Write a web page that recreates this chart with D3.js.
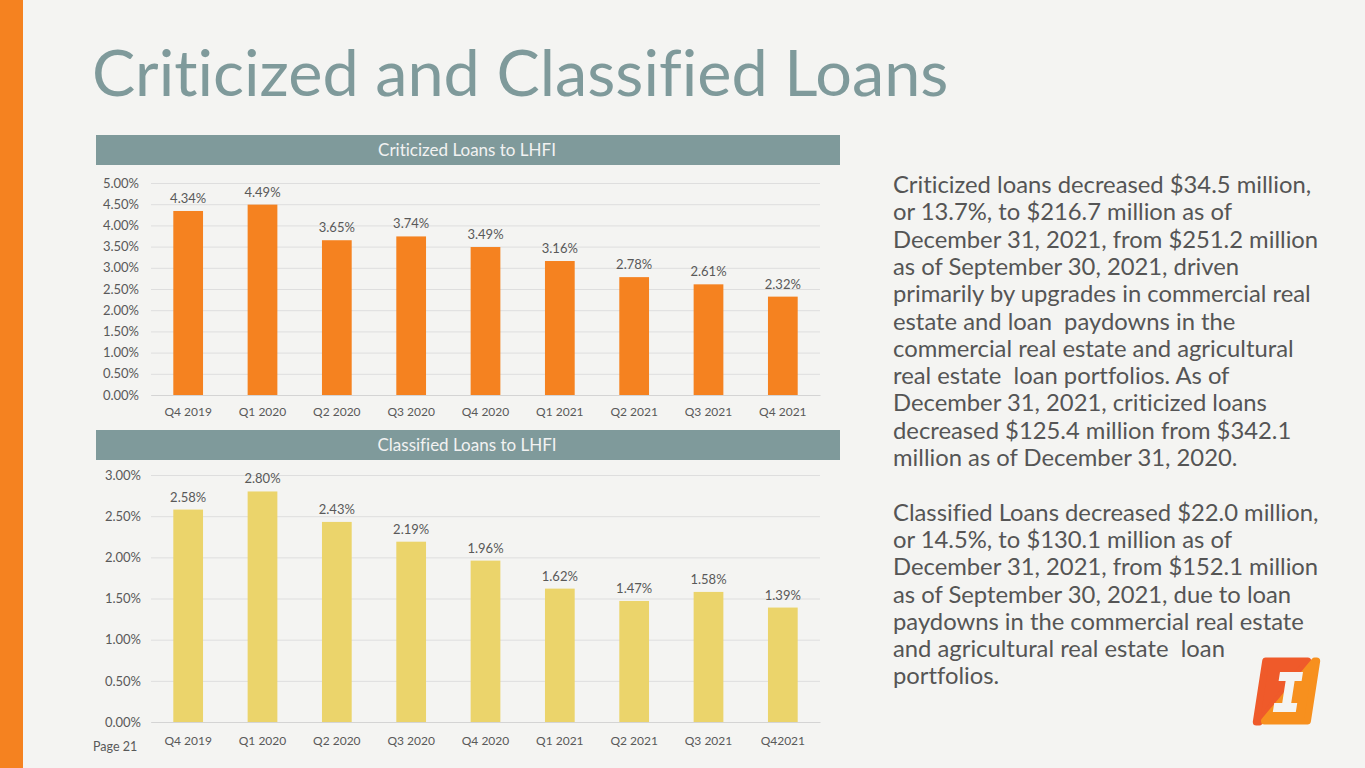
<!DOCTYPE html>
<html>
<head>
<meta charset="utf-8">
<script src="https://cdn.jsdelivr.net/npm/d3@7"></script>
<style>
  html, body { margin: 0; padding: 0; background: #f4f4f2; }
  svg { display: block; }
  text { font-family: Lato, "Open Sans", sans-serif; font-variant-ligatures: none; }
</style>
</head>
<body>
<div id="slide"></div>
<script>
// data
const quarters = ["Q4 2019", "Q1 2020", "Q2 2020", "Q3 2020", "Q4 2020", "Q1 2021", "Q2 2021", "Q3 2021", "Q4 2021"];
const quartersBottom = ["Q4 2019", "Q1 2020", "Q2 2020", "Q3 2020", "Q4 2020", "Q1 2021", "Q2 2021", "Q3 2021", "Q42021"];
const criticized = [4.34, 4.49, 3.65, 3.74, 3.49, 3.16, 2.78, 2.61, 2.32];
const classified = [2.58, 2.80, 2.43, 2.19, 1.96, 1.62, 1.47, 1.58, 1.39];
const criticizedTicks = [0, 0.5, 1, 1.5, 2, 2.5, 3, 3.5, 4, 4.5, 5];
const classifiedTicks = [0, 0.5, 1, 1.5, 2, 2.5, 3];

const para1 = [
  "Criticized loans decreased $34.5 million,",
  "or 13.7%, to $216.7 million as of",
  "December 31, 2021, from $251.2 million",
  "as of September 30, 2021, driven",
  "primarily by upgrades in commercial real",
  "estate and loan  paydowns in the",
  "commercial real estate and agricultural",
  "real estate  loan portfolios. As of",
  "December 31, 2021, criticized loans",
  "decreased $125.4 million from $342.1",
  "million as of December 31, 2020."
];
const para2 = [
  "Classified Loans decreased $22.0 million,",
  "or 14.5%, to $130.1 million as of",
  "December 31, 2021, from $152.1 million",
  "as of September 30, 2021, due to loan",
  "paydowns in the commercial real estate",
  "and agricultural real estate  loan",
  "portfolios."
];

const W = 1365, H = 768;
const svg = d3.select("#slide").append("svg")
    .attr("width", W)
    .attr("height", H);

svg.append("rect").attr("width", W).attr("height", H).attr("fill", "#f4f4f2");

// orange stripe on the left
svg.append("rect").attr("x", 0).attr("y", 0).attr("width", 23).attr("height", H).attr("fill", "#f58220");

// title
svg.append("text")
    .attr("x", 92).attr("y", 96)
    .attr("font-size", 64.8)
    .attr("fill", "#7f9a9b")
    .text("Criticized and Classified Loans");

// one bar panel
function panel(opts) {
  const g = svg.append("g");

  // header band
  g.append("rect")
      .attr("x", 96).attr("y", opts.bandY)
      .attr("width", 744).attr("height", 30)
      .attr("fill", "#7f9a9b");
  g.append("text")
      .attr("x", 467).attr("y", opts.bandY + 21)
      .attr("text-anchor", "middle")
      .attr("font-size", 17)
      .attr("fill", "#f2f2f2")
      .text(opts.title);

  const x = d3.scaleBand()
      .domain(opts.cats)
      .range([151, 820])
      .paddingInner(0.6)
      .paddingOuter(0.3);

  const y = d3.scaleLinear()
      .domain(opts.domain)
      .range([opts.y0, opts.y1]);

  // gridlines + y labels
  const yAxis = g.append("g")
      .attr("transform", "translate(151,0)")
      .call(d3.axisLeft(y).tickValues(opts.ticks).tickSize(-669).tickPadding(opts.yPad)
        .tickFormat(d => d3.format(".2f")(d) + "%"));
  yAxis.select(".domain").remove();
  yAxis.selectAll(".tick line").attr("stroke", "#dedede").attr("stroke-width", 1);
  yAxis.selectAll(".tick text")
      .attr("fill", "#595959")
      .attr("font-size", 13)
      .style("font-family", "Lato, sans-serif");

  // x axis
  const xAxis = g.append("g")
      .attr("transform", `translate(0,${opts.y0})`)
      .call(d3.axisBottom(x).tickSize(0).tickPadding(opts.xPad));
  xAxis.select(".domain").attr("stroke", "#d4d4d4");
  xAxis.selectAll(".tick text")
      .attr("fill", "#595959")
      .attr("font-size", 12)
      .style("font-family", "Lato, sans-serif");

  // bars
  g.selectAll(".bar")
    .data(opts.values)
    .join("rect")
      .attr("class", "bar")
      .attr("x", (d, i) => x(opts.cats[i]))
      .attr("y", d => y(d))
      .attr("width", x.bandwidth())
      .attr("height", d => y(0) - y(d))
      .attr("fill", opts.color);

  // value labels
  g.selectAll(".val")
    .data(opts.values)
    .join("text")
      .attr("class", "val")
      .attr("x", (d, i) => x(opts.cats[i]) + x.bandwidth() / 2)
      .attr("y", d => y(d) - 8)
      .attr("text-anchor", "middle")
      .attr("font-size", 13)
      .attr("fill", "#595959")
      .text(d => d3.format(".2f")(d) + "%");
}

panel({
  title: "Criticized Loans to LHFI",
  bandY: 135,
  cats: quarters,
  values: criticized,
  ticks: criticizedTicks,
  domain: [0, 5],
  y0: 395, y1: 183,
  yPad: 12, xPad: 12,
  color: "#f58220"
});

panel({
  title: "Classified Loans to LHFI",
  bandY: 430,
  cats: quartersBottom,
  values: classified,
  ticks: classifiedTicks,
  domain: [0, 3],
  y0: 722, y1: 475,
  yPad: 10, xPad: 14,
  color: "#ebd46b"
});

// page number
svg.append("text")
    .attr("x", 93).attr("y", 751)
    .attr("font-size", 12.5)
    .attr("fill", "#595959")
    .text("Page 21");

// commentary on the right
const lines = para1.concat([""], para2);
svg.append("g").selectAll("text")
  .data(lines)
  .join("text")
    .attr("x", 893)
    .attr("y", (d, i) => 193 + i * 27.3)
    .attr("font-size", 23.8)
    .attr("fill", "#555555")
    .attr("xml:space", "preserve")
    .style("white-space", "pre")
    .text(d => d);

// logo: slanted rounded square split in two, with an "I" knocked out
const lx = 1263, ly = 659, slant = 0.154;
const pt = (x, y) => [lx + x - slant * y, ly + y];
const poly = pts => "M" + pts.map(p => pt(p[0], p[1]).join(",")).join("L") + "Z";
const logo = svg.append("g");
logo.append("path")
    .attr("d", poly([[3, 2], [45, 2], [6, 63], [3, 63]]))
    .attr("fill", "#ef5a2a").attr("stroke", "#ef5a2a")
    .attr("stroke-width", 7).attr("stroke-linejoin", "round");
logo.append("path")
    .attr("d", poly([[52, 2], [54, 2], [54, 62], [11, 62]]))
    .attr("fill", "#f7901e").attr("stroke", "#f7901e")
    .attr("stroke-width", 7).attr("stroke-linejoin", "round");
logo.append("path")
    .attr("d", poly([[19, 13], [42, 13], [42, 22], [35, 22], [35, 44], [41, 44], [41, 53],
                     [18, 53], [18, 44], [26, 44], [26, 22], [19, 22]]))
    .attr("fill", "#f4f4f2");
</script>
</body>
</html>
